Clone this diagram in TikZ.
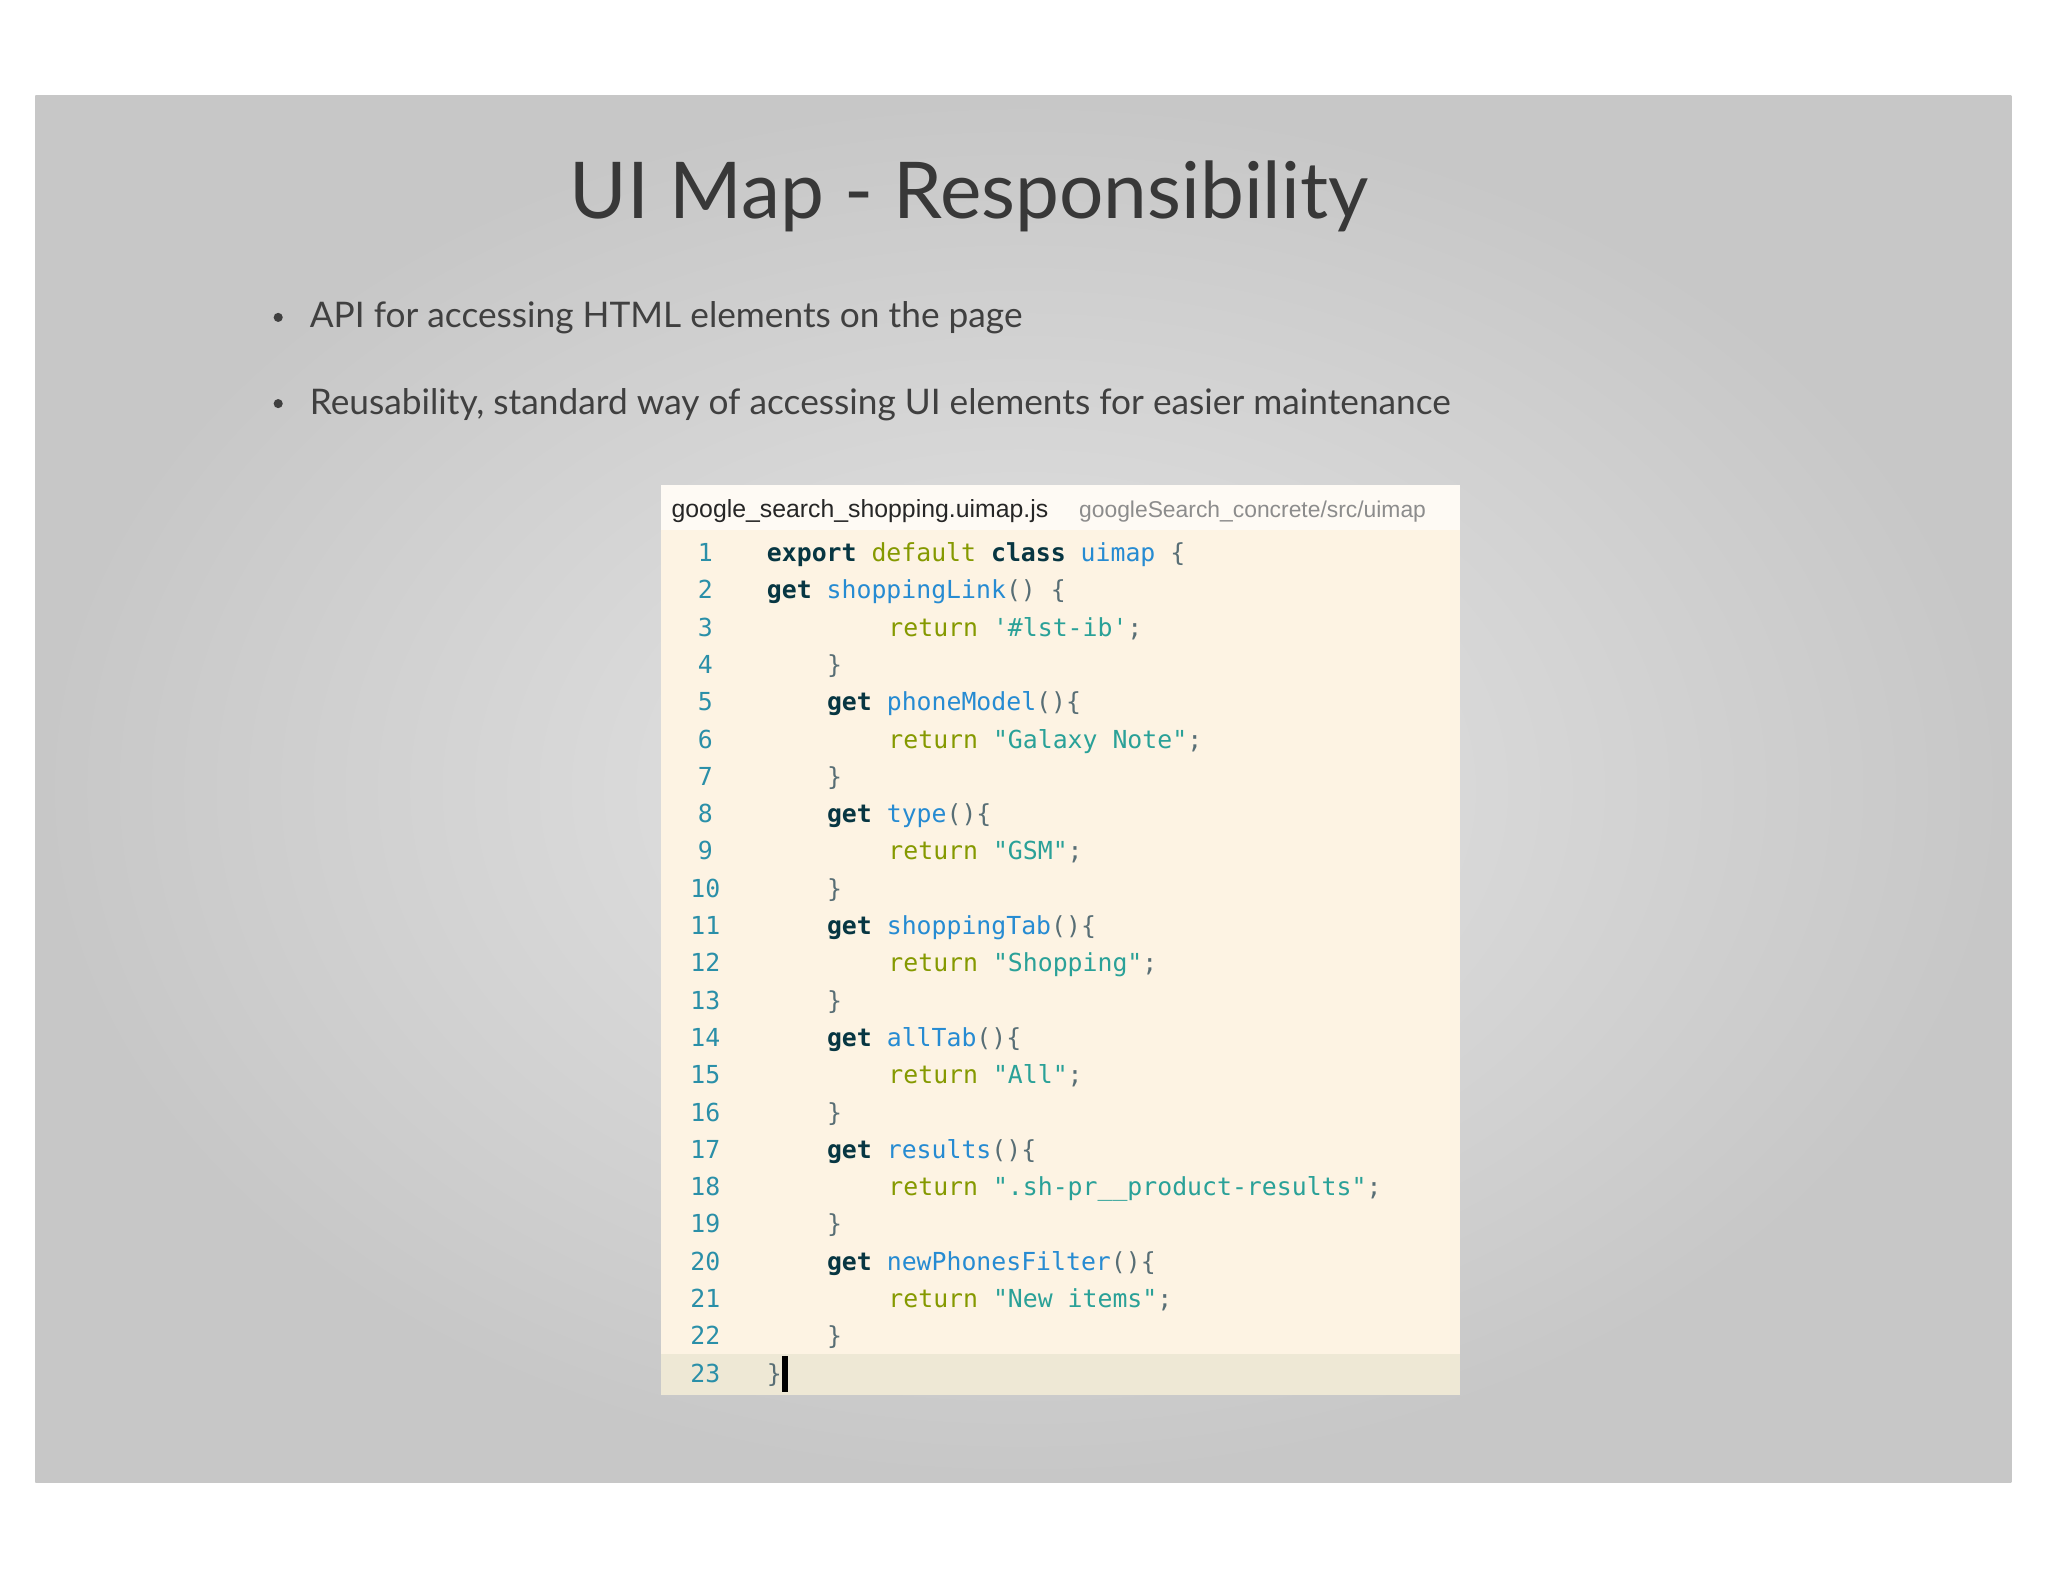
\documentclass[tikz,border=0pt]{standalone}
\usepackage{fontspec}
\setmainfont{Lato}
\newfontfamily\codefont{DejaVu Sans Mono}
\newfontfamily\hdrfont{Liberation Sans}
\definecolor{kwc}{HTML}{073642}
\definecolor{olc}{HTML}{859900}
\definecolor{fnc}{HTML}{268BD2}
\definecolor{stc}{HTML}{2AA198}
\definecolor{brc}{HTML}{586E75}
\definecolor{lnc}{HTML}{2A8FA8}
\definecolor{codebg}{HTML}{FDF3E3}
\definecolor{hlbg}{HTML}{EEE8D5}
\newcommand{\cK}[1]{\textcolor{kwc}{\bfseries #1}}
\newcommand{\cO}[1]{\textcolor{olc}{#1}}
\newcommand{\cF}[1]{\textcolor{fnc}{#1}}
\newcommand{\cS}[1]{\textcolor{stc}{#1}}
\newcommand{\cB}[1]{\textcolor{brc}{#1}}
\begin{document}
\begin{tikzpicture}[x=1pt,y=-1pt,
  code/.style={anchor=base west,inner sep=0,font=\codefont\fontsize{19}{19}\selectfont,text=brc},
  lnum/.style={anchor=base,inner sep=0,font=\codefont\fontsize{19}{19}\selectfont,text=lnc},
  bullet/.style={anchor=base west,inner sep=0,font=\fontsize{27}{27}\selectfont,text=black!75}]
\useasboundingbox (0,0) rectangle (1568,1211);
\fill[white] (0,0) rectangle (1568,1211);
\shade[inner color=black!10,outer color=black!22] (27,73) rectangle (1540,1135);
\node[font=\fontsize{60}{60}\selectfont,text=black!78] (title) at (742,150) {UI Map - Responsibility};
\node[bullet] (b1) at (237,251) {API for accessing HTML elements on the page};
\node[bullet] (b2) at (237,317) {Reusability, standard way of accessing UI elements for easier maintenance};
\fill[black!75] (213,243) circle (3.5);
\fill[black!75] (213,309) circle (3.5);
\fill[codebg!40!white] (506,371) rectangle (1118,406);
\fill[codebg] (506,406) rectangle (1118,1068);
\fill[hlbg] (506,1037) rectangle (1118,1068);
\node[anchor=base west,inner sep=0,font=\hdrfont\fontsize{19}{19}\selectfont,text=black!85] (hdr) at (514,396) {google\_search\_shopping.uimap.js};
\node[anchor=base west,inner sep=0,font=\hdrfont\fontsize{17.5}{17.5}\selectfont,text=black!45] (path) at (826,396) {googleSearch\_concrete/src/uimap};
\foreach \i in {1,...,23} {
  \node[lnum] (ln\i) at (540,{430+28.55*(\i-1)}) {\i};
}
\def\Y#1{{430+28.55*(#1-1)}}
\node[code] (c1) at (587,\Y1) {\cK{export} \cO{default} \cK{class} \cF{uimap} \cB{\{}};
\node[code] (c2) at (587,\Y2) {    \cK{get} \cF{shoppingLink}() \{};
\node[code] (c3) at (680,\Y3) {\cO{return} \cS{'\#lst-ib'};};
\node[code] (c4) at (633,\Y4) {\}};
\node[code] (c5) at (633,\Y5) {\cK{get} \cF{phoneModel}()\{};
\node[code] (c6) at (680,\Y6) {\cO{return} \cS{"Galaxy Note"};};
\node[code] (c7) at (633,\Y7) {\}};
\node[code] (c8) at (633,\Y8) {\cK{get} \cF{type}()\{};
\node[code] (c9) at (680,\Y9) {\cO{return} \cS{"GSM"};};
\node[code] (c10) at (633,\Y{10}) {\}};
\node[code] (c11) at (633,\Y{11}) {\cK{get} \cF{shoppingTab}()\{};
\node[code] (c12) at (680,\Y{12}) {\cO{return} \cS{"Shopping"};};
\node[code] (c13) at (633,\Y{13}) {\}};
\node[code] (c14) at (633,\Y{14}) {\cK{get} \cF{allTab}()\{};
\node[code] (c15) at (680,\Y{15}) {\cO{return} \cS{"All"};};
\node[code] (c16) at (633,\Y{16}) {\}};
\node[code] (c17) at (633,\Y{17}) {\cK{get} \cF{results}()\{};
\node[code] (c18) at (680,\Y{18}) {\cO{return} \cS{".sh-pr\_\_product-results"};};
\node[code] (c19) at (633,\Y{19}) {\}};
\node[code] (c20) at (633,\Y{20}) {\cK{get} \cF{newPhonesFilter}()\{};
\node[code] (c21) at (680,\Y{21}) {\cO{return} \cS{"New items"};};
\node[code] (c22) at (633,\Y{22}) {\}};
\node[code] (c23) at (587,\Y{23}) {\}};
\fill[black] (599,1038) rectangle (603,1066);
\end{tikzpicture}
\end{document}
